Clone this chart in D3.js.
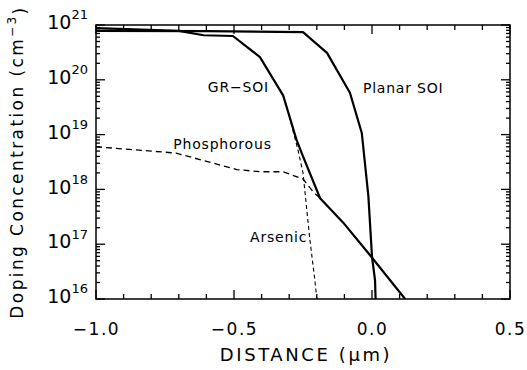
<!DOCTYPE html>
<html lang="en">
<head>
<meta charset="UTF-8">
<title>Doping Concentration vs Distance</title>
<script src="https://d3js.org/d3.v7.min.js"></script>
<style>
  body { margin: 0; background: #fff; }
  text { font-family: "DejaVu Sans", Arial, sans-serif; fill: #000; }
</style>
</head>
<body>
<div id="chart"></div>
<script>
// data (distance in um, concentration in cm^-3)
const planarX = [-1.0, -0.6, -0.25, -0.163, -0.08, -0.037, -0.013, 0.0, 0.011, 0.013];
const planarY = [7.8e20, 7.7e20, 7.4e20, 3.1e20, 5.8e19, 1.07e19, 7.4e17, 5.9e16, 2.2e16, 1e16];

const grX = [-1.0, -0.7, -0.61, -0.504, -0.406, -0.322, -0.273, -0.25, -0.188, -0.105, -0.007, 0.12];
const grY = [8.8e20, 7.8e20, 6.5e20, 6.3e20, 2.6e20, 5.2e19, 7.9e18, 4.0e18, 6.9e17, 2.5e17, 6.3e16, 1e16];

const phosX = [-1.0, -0.71, -0.49, -0.406, -0.322, -0.25, -0.213, -0.188];
const phosY = [6.0e18, 4.6e18, 2.3e18, 2.1e18, 2.1e18, 1.55e18, 9.0e17, 6.9e17];

const arsX = [-0.30, -0.268, -0.25, -0.225, -0.207, -0.2];
const arsY = [2.2e19, 5.2e18, 2.0e18, 1.2e17, 2.2e16, 1e16];

const xTicks = [-1.0, -0.5, 0.0, 0.5];
const yTicks = [1e16, 1e17, 1e18, 1e19, 1e20, 1e21];

const W = 527, H = 370;
const margin = { top: 25, right: 17, bottom: 71, left: 96 };
const width = W - margin.left - margin.right;
const height = H - margin.top - margin.bottom;

const svg = d3.select("#chart").append("svg")
  .attr("width", W).attr("height", H);
const g = svg.append("g")
  .attr("transform", `translate(${margin.left},${margin.top})`);

const x = d3.scaleLinear().domain([-1.0, 0.5]).range([0, width]);
const y = d3.scaleLog().domain([1e16, 1e21]).range([height, 0]);

// minor tick positions
const xMinor = d3.range(-10, 6).map(d => d / 10).filter(d => Math.abs(d * 2 - Math.round(d * 2)) > 1e-6);
const yMinor = [];
for (let e = 16; e < 21; e++) for (let m = 2; m <= 9; m++) yMinor.push(m * Math.pow(10, e));

// frame
g.append("rect").attr("width", width).attr("height", height)
  .attr("fill", "none").attr("stroke", "#000").attr("stroke-width", 1.5);

// inward ticks on all four sides
const tickSegs = [];
xTicks.forEach(v => tickSegs.push([x(v), height, x(v), height - 9], [x(v), 0, x(v), 9]));
xMinor.forEach(v => tickSegs.push([x(v), height, x(v), height - 5], [x(v), 0, x(v), 5]));
yTicks.forEach(v => tickSegs.push([0, y(v), 9, y(v)], [width, y(v), width - 9, y(v)]));
yMinor.forEach(v => tickSegs.push([0, y(v), 4, y(v)], [width, y(v), width - 4, y(v)]));

g.append("g").attr("class", "ticks")
  .selectAll("line").data(tickSegs).join("line")
  .attr("x1", d => d[0]).attr("y1", d => d[1])
  .attr("x2", d => d[2]).attr("y2", d => d[3])
  .style("stroke", "#000").style("stroke-width", "1.3px");

// tick labels
const xAxis = g.append("g").attr("transform", `translate(0,${height})`)
  .call(d3.axisBottom(x).tickValues(xTicks).tickSize(0).tickPadding(36)
    .tickFormat(d => d3.format(".1f")(d).replace("-", "\u2212")));
xAxis.select(".domain").remove();
xAxis.selectAll("text").attr("font-family", null).attr("dy", null)
  .style("font-size", "17px").style("letter-spacing", "1.5px");

const yAxis = g.append("g")
  .call(d3.axisLeft(y).tickValues(yTicks).tickSize(0).tickPadding(8).tickFormat(""));
yAxis.select(".domain").remove();
yAxis.selectAll(".tick text").attr("font-family", null).each(function(d) {
  const t = d3.select(this).attr("dy", "0.36em");
  t.append("tspan").style("font-size", "19px").text("10");
  t.append("tspan").style("font-size", "13px").attr("dy", "-0.75em").text(Math.round(Math.log10(d)));
});

// axis titles
svg.append("text")
  .attr("x", margin.left + width / 2 + 3).attr("y", 361)
  .attr("text-anchor", "middle").style("font-size", "18px").style("letter-spacing", "2.6px")
  .text("DISTANCE  (\u03bcm)");

const yt = svg.append("text")
  .attr("transform", `translate(23,${margin.top + height / 2}) rotate(-90)`)
  .attr("text-anchor", "middle").style("font-size", "17px").style("letter-spacing", "2.4px");
yt.append("tspan").text("Doping  Concentration  (cm");
yt.append("tspan").attr("dy", "-0.6em").style("font-size", "12px").text("\u22123");
yt.append("tspan").attr("dy", "0.6em").text(")");

// curves
svg.append("clipPath").attr("id", "plot-clip")
  .append("rect").attr("width", width).attr("height", height);
const line = d3.line().x(d => x(d[0])).y(d => y(d[1]));
const curves = g.append("g").attr("clip-path", "url(#plot-clip)");

function draw(xs, ys, w, dash) {
  curves.append("path")
    .datum(xs.map((v, i) => [v, ys[i]]))
    .attr("d", line)
    .attr("fill", "none").attr("stroke", "#000")
    .attr("stroke-width", w)
    .attr("stroke-linejoin", "round")
    .attr("stroke-dasharray", dash);
}
draw(planarX, planarY, 2.2, null);
draw(grX, grY, 2.2, null);
draw(phosX, phosY, 1.3, "6,4");
draw(arsX, arsY, 1.1, "4,3");

// curve labels
const labels = [
  { t: "GR\u2212SOI", xv: -0.595, yv: 6.0e19 },
  { t: "Planar  SOI", xv: -0.033, yv: 5.8e19 },
  { t: "Phosphorous", xv: -0.72, yv: 5.5e18 },
  { t: "Arsenic", xv: -0.442, yv: 1.1e17 }
];
g.selectAll(".clabel").data(labels).enter().append("text")
  .attr("class", "clabel")
  .attr("x", d => x(d.xv)).attr("y", d => y(d.yv))
  .style("font-size", "14px").style("letter-spacing", "0.8px")
  .text(d => d.t);
</script>
</body>
</html>
